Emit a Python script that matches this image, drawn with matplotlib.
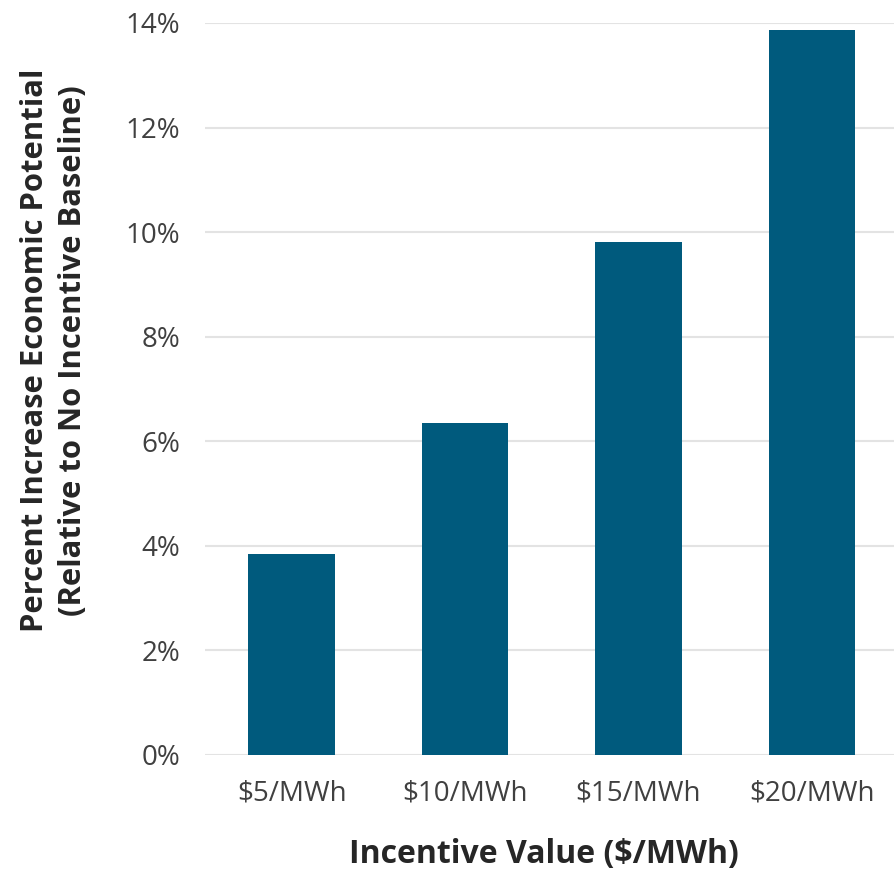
import matplotlib
matplotlib.use("Agg")
import matplotlib.pyplot as plt
from matplotlib.ticker import FuncFormatter

categories = ["$5/MWh", "$10/MWh", "$15/MWh", "$20/MWh"]
values = [3.85, 6.34, 9.82, 13.86]
yticks = [0, 2, 4, 6, 8, 10, 12, 14]

plt.rcParams['font.family'] = ['Open Sans', 'DejaVu Sans']

fig = plt.figure(figsize=(8.95, 8.71), dpi=100)
ax = fig.add_axes([0.229, 0.1332, 0.775, 0.8404])
x = range(len(categories))
ax.bar(x, values, width=0.5, color="#005A7D", zorder=3)
ax.set_xlim(-0.5, len(categories) - 0.5)
ax.set_ylim(0, 14)
ax.set_yticks(yticks)
ax.yaxis.set_major_formatter(FuncFormatter(lambda v, p: f"{v:.0f}%"))
ax.set_xticks(list(x))
ax.set_xticklabels(categories)
ax.grid(axis="y", color="#E3E3E3", linewidth=1.5, zorder=0)
for s in ax.spines.values():
    s.set_visible(False)
ax.tick_params(axis="both", length=0, labelsize=20, labelcolor="#404040")
ax.tick_params(axis="y", pad=18)
ax.tick_params(axis="x", pad=18)
ax.set_xlabel("Incentive Value ($/MWh)", fontsize=23, fontweight="bold", color="#262626")
ax.xaxis.set_label_coords(0.489, -0.114)
ax.set_ylabel("Percent Increase Economic Potential\n(Relative to No Incentive Baseline)",
              fontsize=22.3, fontweight="bold", color="#262626", linespacing=1.35)
ax.yaxis.set_label_coords(-0.169, 0.553)
fig.savefig("out.png", dpi=100)
